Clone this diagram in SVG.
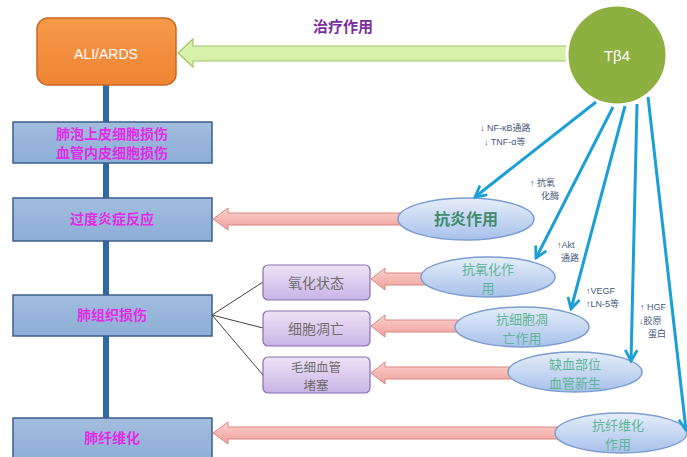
<svg xmlns="http://www.w3.org/2000/svg" width="687" height="457" viewBox="0 0 687 457">
<defs>
<linearGradient id="gOrange" x1="0" y1="0" x2="0" y2="1"><stop offset="0" stop-color="#F7994A"/><stop offset="1" stop-color="#EE8434"/></linearGradient>
<linearGradient id="gBlueBox" x1="0" y1="0" x2="0" y2="1"><stop offset="0" stop-color="#A2BDDE"/><stop offset="1" stop-color="#8DAED6"/></linearGradient>
<linearGradient id="gPurple" x1="0" y1="0" x2="0" y2="1"><stop offset="0" stop-color="#EDE3F6"/><stop offset="1" stop-color="#C9B4E6"/></linearGradient>
<linearGradient id="gEll" x1="0" y1="0" x2="0" y2="1"><stop offset="0" stop-color="#E6EEF9"/><stop offset="1" stop-color="#A7C1EB"/></linearGradient>
<linearGradient id="gPink" x1="0" y1="0" x2="0" y2="1"><stop offset="0" stop-color="#FAD2CE"/><stop offset="1" stop-color="#F0A09A"/></linearGradient>
<marker id="vh" viewBox="0 0 14 14" refX="12" refY="7" markerWidth="14" markerHeight="14" markerUnits="userSpaceOnUse" orient="auto">
<polyline points="1,1 12,7 1,13" fill="none" stroke="#1BA0D6" stroke-width="2.8"/>
</marker>
<style>
.lbox{fill:url(#gBlueBox);stroke:#3D5F8C;stroke-width:1.5}
.ltxt{font-family:"Noto Sans CJK SC",sans-serif;font-size:14px;font-weight:bold;fill:#E22BE6;text-anchor:middle}
.pbox{fill:url(#gPurple);stroke:#8A6FB2;stroke-width:1.2}
.ptxt{font-family:"Noto Sans CJK SC",serif;font-size:14px;fill:#6E6E6E;text-anchor:middle}
.ptxt2{font-family:"Noto Sans CJK SC",serif;font-size:12.5px;fill:#6E6E6E;text-anchor:middle}
.ell{fill:url(#gEll);stroke:#7C9DD0;stroke-width:1.5}
.etxt{font-family:"Noto Sans CJK SC",serif;font-size:13px;fill:#5FB597;text-anchor:middle}
.pink{fill:url(#gPink);stroke:#D98682;stroke-width:1}
.blue{stroke:#1BA0D6;stroke-width:3;fill:none;marker-end:url(#vh)}
.lab{font-family:"Liberation Sans","Noto Sans CJK SC",sans-serif;font-size:9px;fill:#3F5A7C}
.thin{stroke:#404040;stroke-width:1;fill:none}
</style>
</defs>
<rect width="687" height="457" fill="#FFFFFF"/>

<g id="connectors">
<line x1="106" y1="85" x2="106" y2="430" stroke="#2F6BA3" stroke-width="6"/>
<polygon points="178,53 193,39 193,46 572,46 572,61 193,61 193,67" fill="#D7F0AA" stroke="#9DC768" stroke-width="1.2"/>
<polyline class="thin" points="263,282 212,315 263,328"/>
<line class="thin" x1="212" y1="315" x2="263" y2="375"/>
<polygon class="pink" points="213,219 228,208 228,213 402,213 402,225 228,225 228,230"/>
<polygon class="pink" points="371,279 385,268 385,273 426,273 426,285 385,285 385,290"/>
<polygon class="pink" points="371,326 385,315 385,320 459,320 459,332 385,332 385,337"/>
<polygon class="pink" points="371,373 385,362 385,367 512,367 512,379 385,379 385,384"/>
<polygon class="pink" points="213,433 228,422 228,427 560,427 560,439 228,439 228,444"/>
</g>

<g id="ali"><rect x="37" y="18" width="139" height="67" rx="11" fill="url(#gOrange)" stroke="#C96A25" stroke-width="1.5"/>
<text x="106" y="59" font-family="Liberation Sans,sans-serif" font-size="14" fill="#FFFFFF" text-anchor="middle">ALI/ARDS</text></g>
<text x="343" y="32" font-family="Noto Sans CJK SC,sans-serif" font-size="15" font-weight="bold" fill="#7A2E9E" text-anchor="middle">治疗作用</text>

<g id="b1"><rect class="lbox" x="13" y="122" width="199" height="41"/>
<text class="ltxt" x="112" y="139">肺泡上皮细胞损伤</text><text class="ltxt" x="112" y="158">血管内皮细胞损伤</text></g>
<g id="b2"><rect class="lbox" x="13" y="198" width="199" height="43"/><text class="ltxt" x="112" y="224">过度炎症反应</text></g>
<g id="b3"><rect class="lbox" x="13" y="295" width="199" height="41"/><text class="ltxt" x="112" y="320">肺组织损伤</text></g>
<g id="b4"><rect class="lbox" x="13" y="418" width="199" height="45"/><text class="ltxt" x="112" y="443">肺纤维化</text></g>

<g id="p1"><rect class="pbox" x="263" y="265" width="107" height="35" rx="5"/><text class="ptxt" x="316" y="288">氧化状态</text></g>
<g id="p2"><rect class="pbox" x="263" y="311" width="107" height="35" rx="5"/><text class="ptxt" x="316" y="334">细胞凋亡</text></g>
<g id="p3"><rect class="pbox" x="263" y="357" width="107" height="36" rx="5"/><text class="ptxt2" x="316" y="372">毛细血管</text><text class="ptxt2" x="316" y="390">堵塞</text></g>

<g id="e1"><ellipse class="ell" cx="466" cy="219" rx="68" ry="21"/><text class="etxt" x="466" y="225" font-weight="bold" style="fill:#3E8C6C;font-size:16px">抗炎作用</text></g>
<g id="e2"><ellipse class="ell" cx="488" cy="277" rx="67" ry="20"/><text class="etxt" x="488" y="274">抗氧化作</text><text class="etxt" x="488" y="293">用</text></g>
<g id="e3"><ellipse class="ell" cx="522" cy="327" rx="67" ry="20"/><text class="etxt" x="522" y="324">抗细胞凋</text><text class="etxt" x="522" y="343">亡作用</text></g>
<g id="e4"><ellipse class="ell" cx="575" cy="372" rx="67" ry="20"/><text class="etxt" x="575" y="369">缺血部位</text><text class="etxt" x="575" y="388">血管新生</text></g>
<g id="e5"><ellipse class="ell" cx="621" cy="433" rx="66" ry="20"/><text class="etxt" x="618" y="430">抗纤维化</text><text class="etxt" x="618" y="449">作用</text></g>

<g id="tb4"><circle cx="617" cy="55" r="50" fill="#8DB041" stroke="#FFFFFF" stroke-width="3"/>
<text x="617" y="61" font-family="Liberation Sans,sans-serif" font-size="15" fill="#FFFFFF" text-anchor="middle">Tβ4</text></g>

<g id="blue-arrows">
<line class="blue" x1="596" y1="102" x2="475" y2="197"/>
<line class="blue" x1="613" y1="107" x2="536" y2="258"/>
<line class="blue" x1="625" y1="106" x2="571" y2="309"/>
<line class="blue" x1="637" y1="104" x2="631" y2="361"/>
<line class="blue" x1="648" y1="97" x2="686" y2="430"/>
</g>

<g id="labels">
<text class="lab" x="480" y="131">↓ NF-κB通路</text>
<text class="lab" x="484" y="145">↓ TNF-α等</text>
<text class="lab" x="530" y="186">↑ 抗氧</text>
<text class="lab" x="541" y="199">化酶</text>
<text class="lab" x="557" y="248">↑Akt</text>
<text class="lab" x="561" y="261">通路</text>
<text class="lab" x="586" y="294">↑VEGF</text>
<text class="lab" x="586" y="307">↑LN-5等</text>
<text class="lab" x="640" y="310">↑ HGF</text>
<text class="lab" x="639" y="324">↓胶原</text>
<text class="lab" x="648" y="337">蛋白</text>
</g>
</svg>
